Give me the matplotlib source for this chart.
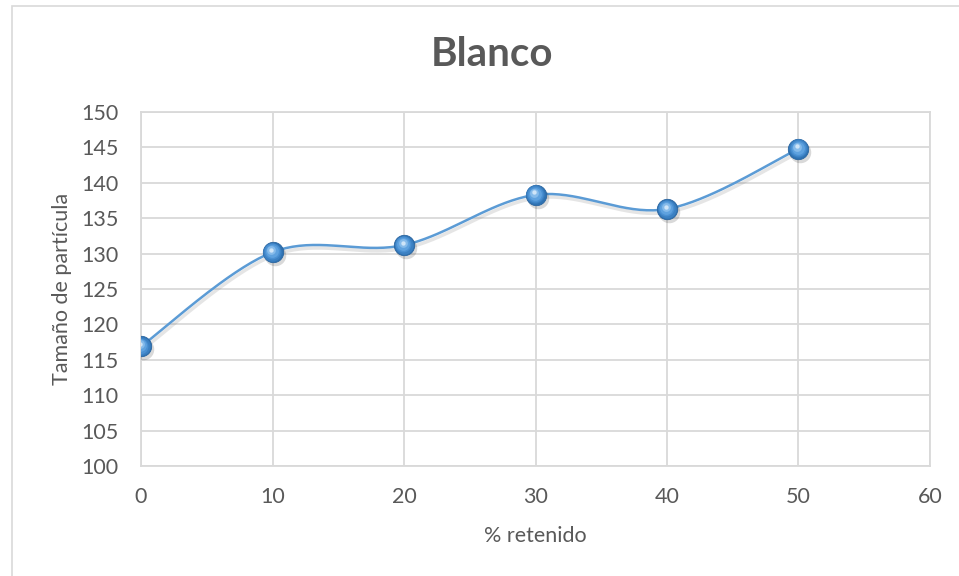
import matplotlib
matplotlib.use("Agg")
import matplotlib.pyplot as plt
import matplotlib.transforms as mtransforms
from matplotlib.patches import Rectangle
import numpy as np

plt.rcParams['font.family'] = ['Lato', 'DejaVu Sans']

# datos
retenido = [0, 10, 20, 30, 40, 50]
tamano = [116.9, 130.2, 131.2, 138.3, 136.3, 144.8]
x_ticks = [0, 10, 20, 30, 40, 50, 60]
y_ticks = [100, 105, 110, 115, 120, 125, 130, 135, 140, 145, 150]

text_color = '#595959'
grid_color = '#d9d9d9'
line_color = '#5b9bd5'


def smooth_curve(x, y, n=40):
    # curva suavizada tipo Excel (Catmull-Rom)
    px = np.concatenate([[x[0]], x, [x[-1]]])
    py = np.concatenate([[y[0]], y, [y[-1]]])
    xs, ys = [], []
    t = np.linspace(0, 1, n)
    for i in range(1, len(px) - 2):
        p0, p1, p2, p3 = [np.array([px[j], py[j]]) for j in range(i - 1, i + 3)]
        c1 = p1 + (p2 - p0) / 6
        c2 = p2 - (p3 - p1) / 6
        b = ((1 - t) ** 3)[:, None] * p1 + (3 * (1 - t) ** 2 * t)[:, None] * c1 \
            + (3 * (1 - t) * t ** 2)[:, None] * c2 + (t ** 3)[:, None] * p2
        xs.extend(b[:, 0])
        ys.extend(b[:, 1])
    return np.array(xs), np.array(ys)


fig = plt.figure(figsize=(9.59, 5.76), dpi=100)
fig.patches.append(Rectangle((12 / 959, -0.05), 1.1, (576 - 6) / 576 + 0.05,
                             transform=fig.transFigure, fill=False,
                             edgecolor='#d9d9d9', linewidth=1.2))
ax = fig.add_axes([141 / 959, 1 - 466 / 576, (930 - 141) / 959, (466 - 112) / 576])

ax.set_xlim(0, 60)
ax.set_ylim(100, 150)
ax.set_xticks(x_ticks)
ax.set_yticks(y_ticks)
ax.grid(True, color=grid_color, linewidth=1.3)
ax.set_axisbelow(True)
for s in ax.spines.values():
    s.set_color(grid_color)
    s.set_linewidth(1.3)
ax.tick_params(length=0, labelsize=15.5, colors=text_color)
ax.tick_params(axis='y', pad=16)
ax.tick_params(axis='x', pad=15)

sx, sy = smooth_curve(np.array(retenido, float), np.array(tamano, float))
shadow = mtransforms.offset_copy(ax.transData, fig=fig, x=1.5, y=-3, units='dots')
ax.plot(sx, sy, color='#7f7f7f', alpha=0.2, linewidth=2.5, transform=shadow, zorder=2)
ax.plot(sx, sy, color=line_color, linewidth=1.8, zorder=3)

# marcadores tipo esfera
mshadow = mtransforms.offset_copy(ax.transData, fig=fig, x=2, y=-3, units='dots')
ax.scatter(retenido, tamano, s=240, color='#000000', alpha=0.15, transform=mshadow,
           zorder=4, linewidths=0)
ax.scatter(retenido, tamano, s=215, color='#2f72b2', edgecolors='#2a65a0',
           linewidths=0.6, zorder=5)
layers = [(175, '#3b80c2', 0.3, 0.4), (130, '#4a90d2', 0.6, 0.8),
          (85, '#5fa2df', 0.9, 1.3), (40, '#86bbea', 1.2, 1.9), (10, '#cfe5f8', 1.3, 2.4)]
for size, col, dx, dy in layers:
    tr = mtransforms.offset_copy(ax.transData, fig=fig, x=-dx, y=dy, units='dots')
    ax.scatter(retenido, tamano, s=size, color=col, linewidths=0, transform=tr, zorder=6)

ax.set_xlabel('% retenido', fontsize=15.5, color=text_color, labelpad=14)
ax.set_ylabel('Tamaño de partícula', fontsize=15.5, color=text_color, labelpad=7)
fig.text(492 / 959, 1 - 55 / 576, 'Blanco', fontsize=29, fontweight='bold',
         color=text_color, ha='center', va='center')

fig.savefig('out.png', dpi=100)
